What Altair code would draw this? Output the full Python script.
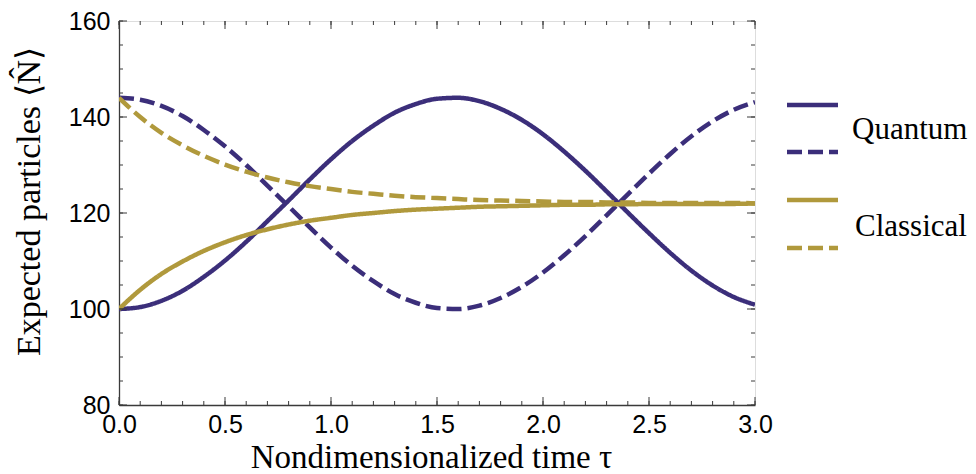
import altair as alt
import pandas as pd

# time grid
tau = [0.0, 0.1, 0.2, 0.3, 0.4, 0.5, 0.6, 0.7, 0.8, 0.9, 1.0,
       1.1, 1.2, 1.3, 1.4, 1.5, 1.6, 1.7, 1.8, 1.9, 2.0,
       2.1, 2.2, 2.3, 2.4, 2.5, 2.6, 2.7, 2.8, 2.9, 3.0]

# expected particle numbers for each model and initial state
quantum_low = [100.0, 100.4, 101.7, 103.8, 106.7, 110.1, 114.0, 118.3, 122.6, 127.0, 131.2,
               135.0, 138.2, 140.9, 142.7, 143.8, 144.0, 143.3, 141.7, 139.4, 136.4,
               132.8, 128.8, 124.5, 120.1, 115.8, 111.7, 108.0, 104.9, 102.5, 100.9]
quantum_high = [144.0, 143.6, 142.3, 140.2, 137.3, 133.9, 130.0, 125.7, 121.4, 117.0, 112.8,
                109.0, 105.8, 103.1, 101.3, 100.2, 100.0, 100.7, 102.3, 104.6, 107.6,
                111.2, 115.2, 119.5, 123.9, 128.2, 132.3, 136.0, 139.1, 141.5, 143.1]
classical_low = [100.0, 104.0, 107.3, 109.9, 112.1, 113.9, 115.4, 116.6, 117.6, 118.4, 119.0,
                 119.6, 120.0, 120.4, 120.7, 120.9, 121.1, 121.3, 121.4, 121.5, 121.6,
                 121.7, 121.7, 121.8, 121.8, 121.9, 121.9, 121.9, 121.9, 121.9, 122.0]
classical_high = [144.0, 140.0, 136.7, 134.1, 131.9, 130.1, 128.6, 127.4, 126.4, 125.6, 125.0,
                  124.4, 124.0, 123.6, 123.3, 123.1, 122.9, 122.7, 122.6, 122.5, 122.4,
                  122.3, 122.3, 122.2, 122.2, 122.1, 122.1, 122.1, 122.1, 122.1, 122.0]

x_major = [0.0, 0.5, 1.0, 1.5, 2.0, 2.5, 3.0]
x_minor = [round(0.1 * i, 1) for i in range(31)]
y_major = [80, 100, 120, 140, 160]
y_minor = list(range(80, 161, 5))

PURPLE = "#3b2e7a"
GOLD = "#b0993c"
FRAME = "#3a3a3a"
SERIF = "Liberation Serif"
SANS = "Liberation Sans"

W, H = 636, 384

rows = []
for model, style, vals in [("quantum", "solid", quantum_low),
                           ("quantum", "dashed", quantum_high),
                           ("classical", "solid", classical_low),
                           ("classical", "dashed", classical_high)]:
    for t, v in zip(tau, vals):
        rows.append({"tau": t, "N": v, "model": model, "style": style,
                     "series": model + "_" + style})
df = pd.DataFrame(rows)

x_scale = alt.Scale(domain=[0, 3], nice=False, zero=False)
y_scale = alt.Scale(domain=[80, 160], nice=False, zero=False)

lines = alt.Chart(df).mark_line(strokeWidth=4.5, interpolate="monotone", clip=True).encode(
    x=alt.X("tau:Q", scale=x_scale,
            axis=alt.Axis(values=x_major, format=".1f", ticks=False, grid=False,
                          labelFont=SANS, labelFontSize=25, labelColor="#000",
                          labelPadding=7, labelFlush=False, labelOverlap=False,
                          domainColor=FRAME, domainWidth=1.3,
                          title="Nondimensionalized time τ", titleFont=SERIF,
                          titleFontSize=33, titleFontWeight="normal", titleColor="#000",
                          titleX=312, titleY=62, titleBaseline="alphabetic",
                          titleAlign="center")),
    y=alt.Y("N:Q", scale=y_scale,
            axis=alt.Axis(values=y_major, ticks=False, grid=False,
                          labelFont=SANS, labelFontSize=25, labelColor="#000",
                          labelPadding=9, labelOverlap=False,
                          domainColor=FRAME, domainWidth=1.3,
                          title="Expected particles ⟨N̂⟩", titleFont=SERIF,
                          titleFontSize=34, titleFontWeight="normal", titleColor="#000",
                          titleX=-80, titleY=180, titleAngle=270,
                          titleBaseline="alphabetic", titleAlign="center")),
    color=alt.Color("model:N", scale=alt.Scale(domain=["quantum", "classical"],
                                                range=[PURPLE, GOLD]), legend=None),
    strokeDash=alt.StrokeDash("style:N", scale=alt.Scale(domain=["solid", "dashed"],
                                                          range=[[1, 0], [15, 6]]),
                              legend=None),
    detail="series:N",
)

# inward-pointing ticks on all four sides
def x_ticks(values, length):
    d = pd.DataFrame({"v": values})
    base = alt.Chart(d).mark_rule(color=FRAME, strokeWidth=1)
    bottom = base.encode(x=alt.X("v:Q", scale=x_scale), y=alt.value(H), y2=alt.value(H - length))
    top = base.encode(x=alt.X("v:Q", scale=x_scale), y=alt.value(0), y2=alt.value(length))
    return [bottom, top]


def y_ticks(values, length):
    d = pd.DataFrame({"v": values})
    base = alt.Chart(d).mark_rule(color=FRAME, strokeWidth=1)
    left = base.encode(y=alt.Y("v:Q", scale=y_scale), x=alt.value(0), x2=alt.value(length))
    right = base.encode(y=alt.Y("v:Q", scale=y_scale), x=alt.value(W), x2=alt.value(W - length))
    return [left, right]


ticks = (x_ticks(x_minor, 4) + x_ticks(x_major, 8)
         + y_ticks(y_minor, 4) + y_ticks(y_major, 8))

# legend: solid and dashed sample per model, label between them
one = pd.DataFrame({"k": [0]})
legend = []
for yv, col, dash in [(84, PURPLE, [1, 0]), (131, PURPLE, [15, 6]),
                      (179, GOLD, [1, 0]), (227, GOLD, [15, 6])]:
    legend.append(alt.Chart(one).mark_rule(color=col, strokeWidth=4.5, strokeDash=dash).encode(
        x=alt.value(668), x2=alt.value(719), y=alt.value(yv)))
for label, yv, xv in [("Quantum", 109, 733), ("Classical", 206, 736)]:
    legend.append(alt.Chart(one).mark_text(text=label, font=SERIF, fontSize=31,
                                           align="left", baseline="middle", color="#000").encode(
        x=alt.value(xv), y=alt.value(yv)))

chart = alt.layer(lines, *ticks, *legend).properties(
    width=W, height=H,
    padding={"left": 119, "top": 21, "right": 221, "bottom": 69},
    autosize=alt.AutoSizeParams(type="none"),
).configure_view(stroke=FRAME, strokeWidth=1.3).configure(background="white")

chart.save("out.html", embed_options={"renderer": "svg", "actions": False})
